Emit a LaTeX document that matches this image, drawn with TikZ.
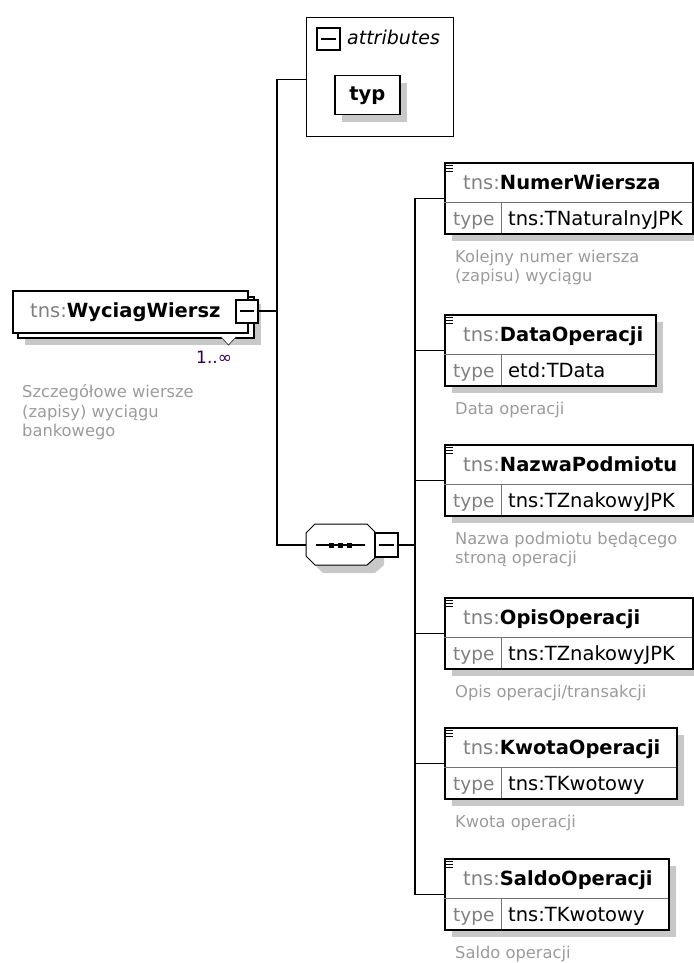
\documentclass[tikz,border=0pt]{standalone}
\usepackage{fontspec}
\setmainfont{DejaVu Sans}
\usetikzlibrary{positioning}
\definecolor{nsgray}{RGB}{128,128,128}
\definecolor{docgray}{RGB}{155,155,155}
\definecolor{shadowgray}{RGB}{200,200,200}
\definecolor{occ}{RGB}{50,0,80}
\newcommand{\fs}[1]{\fontsize{#1}{#1}\selectfont}
\newcommand{\octa}{(315,524)--(367,524)--(376,533)--(376,557)--(367,565)--(315,565)--(306,556)--(306,533)--cycle}
\begin{document}
\begin{tikzpicture}[x=1pt,y=-1pt,line join=miter,
 box/.style={draw,line width=1.5pt,fill=white,inner sep=0pt,anchor=north west},
 minusbox/.style={draw,line width=2pt,fill=white,inner sep=0pt,minimum width=22,minimum height=23,
  path picture={\draw[line width=1.2pt]([xshift=4pt]path picture bounding box.west)--([xshift=-4pt]path picture bounding box.east);}},
 dropfill/.style={fill=shadowgray},
 conn/.style={line width=1.5pt},
 div/.style={draw=black!55,line width=1pt},
 nm/.style={anchor=base west,inner sep=0pt,font=\fs{19.5}},
 doc/.style={anchor=north west,inner sep=0pt,align=left,text=docgray,font=\fontsize{16.3}{19.5}\selectfont}]
 \useasboundingbox (0,0) rectangle (693,963);
 % attributes
 \node[box,line width=1pt,minimum width=147,minimum height=119] (attr) at (306,17) {};
 \node[minusbox,minimum width=23,minimum height=22] (attrmin) at (328,39) {};
 \node[nm,font=\fs{19}\itshape] (attrlbl) at (347,45) {attributes};
 \fill[dropfill] (342,83) rectangle (407,122);
 \node[box,minimum width=65,minimum height=39,text height=11,text depth=0,font=\fs{19.5}\bfseries] (typ) at (334,75) {typ};
 % root element
 \fill[dropfill] (25,304) rectangle (261,345);
 \node[box,minimum width=236,minimum height=41] (rootbk) at (17,296) {};
 \filldraw[fill=white,draw=black!70,line width=0.8pt] (221,337)--(228.5,345)--(236,337);
 \node[box,minimum width=235,minimum height=42] (root) at (12,290) {};
 \node[nm] (rootname) at (30,317) {\textcolor{nsgray}{tns:}\textbf{WyciagWiersz}};
 \node[minusbox] (rootmin) at (247,311) {};
 \node[nm,font=\fs{17},text=occ] (occurs) at (196,363) {1..∞};
 \node[doc] (rootdoc) at (22,383.85) {\strut Szczegółowe wiersze\\(zapisy) wyciągu\\bankowego};
 % sequence
 \fill[dropfill,shift={(8,8)}] \octa;
 \draw[fill=white,line width=1pt] \octa;
 \coordinate (seq) at (306,545);
 \draw[line width=1.2pt] (316,545)--(365,545);
 \foreach \x in {331,340,349}
  \fill (\x,545)+(-2.5,-2.5) rectangle +(2.5,2.5);
 \node[minusbox,minimum width=23,minimum height=24] (seqmin) at (386.5,545) {};
 \coordinate (bus) at (277,311);
 \coordinate (bus2) at (415,545);
 \draw[conn] (rootmin.east)--(bus);
 \draw[conn] ([yshift=-2.5pt]attr.west)-|(bus)|-(seq);
 \draw[conn] (seqmin.east)--(bus2);
 % child elements
 \foreach \n/\ty/\t/\r/\d [count=\i] in {
  NumerWiersza/tns:TNaturalnyJPK/162/692/{Kolejny numer wiersza\\(zapisu) wyciągu},
  DataOperacji/etd:TData/314/655/{Data operacji},
  NazwaPodmiotu/tns:TZnakowyJPK/444/692/{Nazwa podmiotu będącego\\stroną operacji},
  OpisOperacji/tns:TZnakowyJPK/597/692/{Opis operacji/transakcji},
  KwotaOperacji/tns:TKwotowy/727/676/{Kwota operacji},
  SaldoOperacji/tns:TKwotowy/858/668/{Saldo operacji}}{
  \fill[dropfill] (452,\t+8) rectangle (\r+8,\t+79);
  \node[box,minimum width=\r-444,minimum height=71] (e\i) at (444,\t) {};
  \draw[div] (444,\t+40)--(\r,\t+40) (501,\t+40)--(501,\t+71);
  \foreach \k in {3,6,9}
   \draw[line width=0.8pt] (446,\t+\k)--(453,\t+\k);
  \node[nm] (n\i) at (463,\t+27) {\textcolor{nsgray}{tns:}\textbf{\n}};
  \node[nm,font=\fs{18.5},text=nsgray] (tl\i) at (453,\t+63) {type};
  \node[nm] (tv\i) at (508,\t+63) {\ty};
  \node[doc] (d\i) at (455,\t+86.35) {\strut\d};
  \draw[conn] (bus2)|-(e\i.west);
 }
\end{tikzpicture}
\end{document}
